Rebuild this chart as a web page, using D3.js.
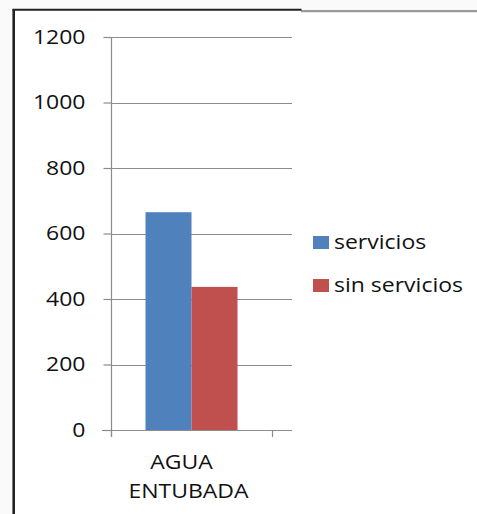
<!DOCTYPE html>
<html>
<head>
<meta charset="utf-8">
<script src="https://cdn.jsdelivr.net/npm/d3@7"></script>
<style>
  body { margin: 0; background: #fafafa; }
  svg { display: block; font-family: "Open Sans", "Liberation Sans", sans-serif; }
</style>
</head>
<body>
<div id="chart"></div>
<script>
// chart data
var categories = ["AGUA ENTUBADA"];
var seriesNames = ["servicios", "sin servicios"];
var servicios = [665];
var sinServicios = [437];
var yTicks = [0, 200, 400, 600, 800, 1000, 1200];
var colors = ["#4F81BD", "#C0504D"];

var width = 477, height = 514;
var stretch = 1.15; // text looks widened in the picture

var svg = d3.select("#chart").append("svg")
  .attr("width", width)
  .attr("height", height);

// frame
svg.append("rect").attr("x", 0).attr("y", 0).attr("width", width).attr("height", height).attr("fill", "#fafafa");
svg.append("rect").attr("x", 14).attr("y", 10).attr("width", width - 14).attr("height", height - 10).attr("fill", "#fff");
svg.append("line").attr("x1", 301).attr("x2", width).attr("y1", 11.2).attr("y2", 11.2)
  .attr("stroke", "#9a9a9a").attr("stroke-width", 2.2);
svg.append("line").attr("x1", 12.5).attr("x2", 301.5).attr("y1", 9.8).attr("y2", 9.8)
  .attr("stroke", "#222").attr("stroke-width", 2);
svg.append("line").attr("x1", 13.7).attr("x2", 13.7).attr("y1", 9).attr("y2", height)
  .attr("stroke", "#222").attr("stroke-width", 2.6);

// scales
var plotLeft = 111, plotRight = 272, gridRight = 292;
var y = d3.scaleLinear().domain([0, 1200]).range([430, 37]);
var x0 = d3.scaleBand().domain(categories).range([plotLeft, plotRight]).padding(0);
var x1 = d3.scaleBand().domain(seriesNames).range([0, x0.bandwidth()]).paddingInner(0).paddingOuter(0.75);

// gridlines
svg.append("g").selectAll("line")
  .data(yTicks)
  .enter().append("line")
  .attr("x1", d => d === 0 ? 102 : plotLeft)
  .attr("x2", gridRight)
  .attr("y1", d => Math.round(y(d)) + 0.5)
  .attr("y2", d => Math.round(y(d)) + 0.5)
  .attr("stroke", "#8c8c8c")
  .attr("stroke-width", 1.2);

// bars
var rows = categories.map((c, i) => ({ cat: c, values: [servicios[i], sinServicios[i]] }));
var groups = svg.selectAll("g.cat")
  .data(rows)
  .enter().append("g")
  .attr("class", "cat")
  .attr("transform", d => `translate(${x0(d.cat)},0)`);

groups.selectAll("rect")
  .data(d => d.values.map((v, i) => ({ name: seriesNames[i], value: v, i: i })))
  .enter().append("rect")
  .attr("x", d => x1(d.name))
  .attr("width", x1.bandwidth())
  .attr("y", d => y(d.value))
  .attr("height", d => y(0) - y(d.value))
  .attr("fill", d => colors[d.i]);

// y axis
var yAxis = d3.axisLeft(y).tickValues(yTicks).tickFormat(d3.format("d")).tickSize(8).tickSizeOuter(0);
var yG = svg.append("g")
  .attr("transform", `translate(${plotLeft + 0.5},0)`)
  .call(yAxis);
yG.select(".domain").remove();
yG.append("line").attr("x1", 0).attr("x2", 0).attr("y1", y(1200)).attr("y2", 437)
  .attr("stroke", "#8c8c8c").attr("stroke-width", 1.2);
yG.selectAll(".tick line").attr("stroke", "#8c8c8c").attr("stroke-width", 1.2);
yG.selectAll(".tick text")
  .attr("x", 0)
  .attr("transform", `translate(-26,0) scale(${stretch},1)`)
  .attr("fill", "#111")
  .style("font-size", "20px")
  .style("font-family", "'Open Sans', sans-serif");

// x axis ticks at category edges
svg.append("g").selectAll("line")
  .data([plotLeft, plotRight])
  .enter().append("line")
  .attr("x1", d => d + 0.5).attr("x2", d => d + 0.5)
  .attr("y1", y(0)).attr("y2", 437)
  .attr("stroke", "#8c8c8c").attr("stroke-width", 1.2);

// category label
var catLabel = svg.append("g")
  .attr("transform", `translate(${x0(categories[0]) + x0.bandwidth() / 2 - 3},0)`);
var words = ["AGUA", "ENTUBADA"];
catLabel.selectAll("text")
  .data(words)
  .enter().append("text")
  .attr("transform", (d, i) => `translate(${i === 0 ? -7 : 0},${469 + i * 29}) scale(${stretch},1)`)
  .attr("text-anchor", "middle")
  .attr("fill", "#111")
  .style("font-size", "20px")
  .text(d => d);

// legend
var legend = svg.append("g");
var items = legend.selectAll("g")
  .data(seriesNames)
  .enter().append("g")
  .attr("transform", (d, i) => `translate(313,${236 + i * 43})`);
items.append("rect")
  .attr("width", 16).attr("height", 13)
  .attr("fill", (d, i) => colors[i]);
items.append("text")
  .attr("transform", `translate(21,13) scale(${stretch},1)`)
  .attr("fill", "#111")
  .style("font-size", "20px")
  .text(d => d);
</script>
</body>
</html>
